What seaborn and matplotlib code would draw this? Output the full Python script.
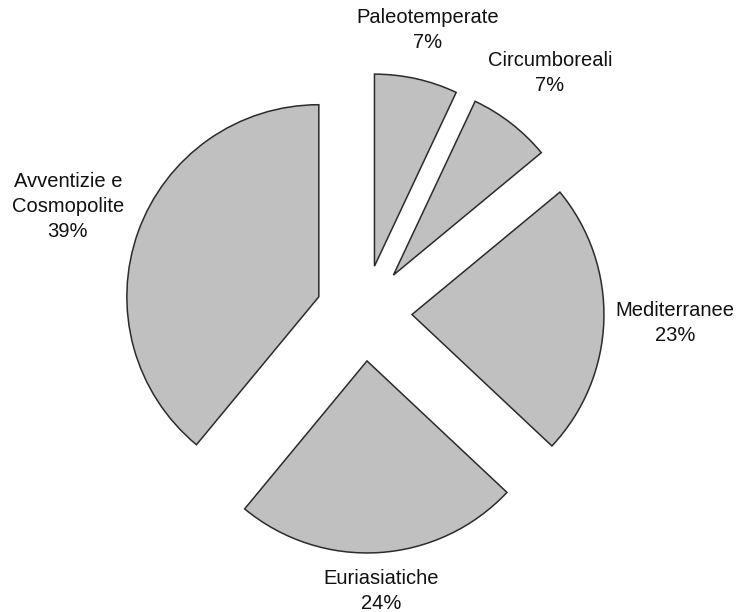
import numpy as np
import matplotlib
matplotlib.use("Agg")
import matplotlib.pyplot as plt
import seaborn as sns

# Data
categories = ["Paleotemperate", "Circumboreali", "Mediterranee", "Euriasiatiche",
              "Avventizie e\nCosmopolite"]
percentages = [7, 7, 23, 24, 39]

sns.set_theme(style="white")
plt.rcParams["font.family"] = ["Liberation Sans", "DejaVu Sans"]

fig = plt.figure(figsize=(7.37, 6.12), dpi=100)
ax = fig.add_axes([0, 0, 1, 1])

labels = [f"{c}\n{p}%" for c, p in zip(categories, percentages)]
wedges, texts = ax.pie(
    percentages,
    labels=labels,
    startangle=90,
    counterclock=False,
    explode=[0.25] * len(percentages),
    radius=1.0,
    colors=["#C0C0C0"] * len(percentages),
    wedgeprops=dict(edgecolor="#2b2b2b", linewidth=1.1),
    textprops=dict(fontsize=14.5, color="#111111", linespacing=1.4),
)

# label distances from each exploded wedge centre (layout only)
label_dist = [1.26, 1.33, 1.37, 1.20, 1.39]
for w, t, d in zip(wedges, texts, label_dist):
    th = np.deg2rad((w.theta1 + w.theta2) / 2)
    cx, cy = w.center
    t.set_position((cx + d * np.cos(th), cy + d * np.sin(th)))
    t.set_ha("center")
    t.set_va("center")
    t.set_multialignment("center")

ax.set_xlim(-1.896, 1.943)
ax.set_ylim(-1.557, 1.630)
ax.set_aspect("auto")
ax.axis("off")

fig.savefig("out.png", dpi=100, facecolor="white")
